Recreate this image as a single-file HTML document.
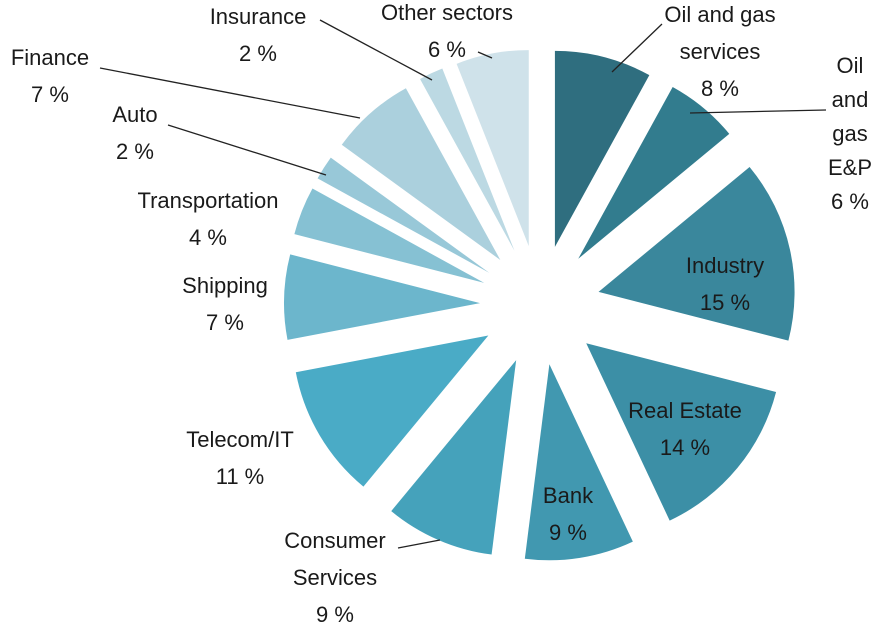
<!DOCTYPE html>
<html><head><meta charset="utf-8"><style>
body{margin:0;background:#fff;}
svg{display:block;font-family:"Liberation Sans",sans-serif;}
</style></head><body>
<svg id="chart" width="878" height="630" viewBox="0 0 878 630"></svg>
<script>
const categories=["Oil and gas services","Oil and gas E&P","Industry","Real Estate","Bank","Consumer Services","Telecom/IT","Shipping","Transportation","Auto","Finance","Insurance","Other sectors"];
const values=[8,6,15,14,9,9,11,7,4,2,7,2,6];
const colors=["#2f6e7f","#327c8e","#3a879c","#3c8fa6","#4198b0","#45a2bb","#4aabc6","#6cb6cc","#86c1d3","#98c8d8","#abd0dd","#bcd9e3","#cfe2ea"];
// label lines [text lines], anchor position, optional leader line
const labels=[
 {t:["Oil and gas","services","8 %"],x:720,y:22,l:[662,24,612,72]},
 {t:["Oil","and","gas","E&P","6 %"],x:850,y:73,l:[826,110,690,113]},
 {t:["Industry","15 %"],x:725,y:273},
 {t:["Real Estate","14 %"],x:685,y:418},
 {t:["Bank","9 %"],x:568,y:503},
 {t:["Consumer","Services","9 %"],x:335,y:548,l:[398,548,440,540]},
 {t:["Telecom/IT","11 %"],x:240,y:447},
 {t:["Shipping","7 %"],x:225,y:293},
 {t:["Transportation","4 %"],x:208,y:208},
 {t:["Auto","2 %"],x:135,y:122,l:[168,125,326,175]},
 {t:["Finance","7 %"],x:50,y:65,l:[100,68,360,118]},
 {t:["Insurance","2 %"],x:258,y:24,l:[320,20,432,80]},
 {t:["Other sectors","6 %"],x:447,y:20,l:[478,52,492,58]}
];
const svg=document.getElementById('chart');
const NS="http://www.w3.org/2000/svg";
const cx=540,cy=305,r=196,d=60;
const total=values.reduce((a,b)=>a+b,0);
let acc=0;
values.forEach((v,i)=>{
  const a0=acc/total*2*Math.PI, a1=(acc+v)/total*2*Math.PI; acc+=v;
  const am=(a0+a1)/2;
  const ox=cx+d*Math.sin(am), oy=cy-d*Math.cos(am);
  const x0=ox+r*Math.sin(a0), y0=oy-r*Math.cos(a0);
  const x1=ox+r*Math.sin(a1), y1=oy-r*Math.cos(a1);
  const p=document.createElementNS(NS,'path');
  p.setAttribute('d',`M${ox},${oy}L${x0},${y0}A${r},${r} 0 ${a1-a0>Math.PI?1:0} 1 ${x1},${y1}Z`);
  p.setAttribute('fill',colors[i]);
  
  
  svg.appendChild(p);
});
labels.forEach((L,i)=>{
  if(L.l){
    const ln=document.createElementNS(NS,'line');
    ln.setAttribute('x1',L.l[0]);ln.setAttribute('y1',L.l[1]);ln.setAttribute('x2',L.l[2]);ln.setAttribute('y2',L.l[3]);
    ln.setAttribute('stroke','#222');ln.setAttribute('stroke-width','1.3');
    
    
    svg.appendChild(ln);
  }
  const t=document.createElementNS(NS,'text');
  t.setAttribute('text-anchor','middle');t.setAttribute('font-size','22');t.setAttribute('fill','#1a1a1a');
  
  
  L.t.forEach((s,j)=>{
    const ts=document.createElementNS(NS,'tspan');
    ts.setAttribute('x',L.x);ts.setAttribute('y',L.y+j*(L.t.length>3?34:37));
    ts.textContent=s;t.appendChild(ts);
  });
  svg.appendChild(t);
});
</script>
</body></html>
